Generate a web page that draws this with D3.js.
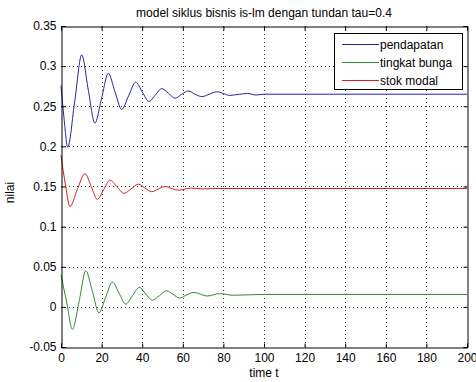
<!DOCTYPE html>
<html><head><meta charset="utf-8">
<script src="https://cdn.jsdelivr.net/npm/d3@7"></script>
<style>body{margin:0;background:#fff}svg{display:block}text{font-family:"Liberation Sans",Arial,sans-serif}</style>
</head><body><svg id="c" width="476" height="382"></svg>
<script>
const title = "model siklus bisnis is-lm dengan tundan tau=0.4";
const xLabel = "time t";
const yLabel = "nilai";
const xTicks = [0,20,40,60,80,100,120,140,160,180,200];
const yTicks = [-0.05,0,0.05,0.1,0.15,0.2,0.25,0.3,0.35];
const seriesNames = ["pendapatan","tingkat bunga","stok modal"];
const seriesColors = ["#2020b4","#2a8c2a","#d81c1c"];

const tPendapatan = [0,1.5,3.3,6.8,10.2,13.4,16.7,20,23.3,26.6,29.9,33.3,36.8,40,43.3,46.5,49.6,53,56.2,59.5,62.7,66,69.5,73,76.7,80,83,88,92,96,100,200];
const vPendapatan = [0.276,0.235,0.199,0.257,0.314,0.271,0.229,0.260,0.291,0.268,0.246,0.263,0.280,0.268,0.256,0.264,0.272,0.266,0.260,0.265,0.269,0.265,0.262,0.265,0.268,0.266,0.2635,0.265,0.266,0.264,0.265,0.265];

const tBunga = [0,2.8,5.6,9,12.2,15.5,18.7,22,25.3,28.6,31.9,35.2,38.6,41.8,45,48.5,52,55,58.5,62,65.5,72,78,85,100,200];
const vBunga = [0.0395,0.006,-0.028,0.008,0.045,0.019,-0.0075,0.012,0.031,0.017,0.0034,0.014,0.0242,0.016,0.0083,0.014,0.020,0.016,0.011,0.015,0.018,0.0135,0.0165,0.0145,0.0155,0.0155];

const tModal = [0,2.2,4.4,8,11.8,14.9,17.9,21,24.1,27.5,31,34.5,38.1,41.4,44.7,48,51.3,55,58,64,70,76,200];
const vModal = [0.189,0.152,0.125,0.146,0.166,0.150,0.134,0.146,0.158,0.150,0.1415,0.147,0.153,0.148,0.1435,0.147,0.150,0.147,0.1455,0.148,0.147,0.1475,0.1475];

const svg = d3.select("#c");
const L=61,R=467,T=26,B=347;
const x = d3.scaleLinear().domain([0,200]).range([L,R]);
const y = d3.scaleLinear().domain([-0.05,0.35]).range([B,T]);

svg.append("rect").attr("x",L).attr("y",T).attr("width",R-L).attr("height",B-T).attr("fill","#fff");

// grid
const g = svg.append("g").attr("stroke","#333").attr("stroke-width",1).attr("stroke-dasharray","1,3");
xTicks.slice(1,-1).forEach(t=>g.append("line").attr("x1",Math.round(x(t))+0.5).attr("x2",Math.round(x(t))+0.5).attr("y1",T).attr("y2",B));
yTicks.slice(1,-1).forEach(t=>g.append("line").attr("y1",Math.round(y(t))+0.5).attr("y2",Math.round(y(t))+0.5).attr("x1",L).attr("x2",R));

// lines
const mk = (ts,vs)=>ts.map((t,i)=>[t,vs[i]]);
const data = [mk(tPendapatan,vPendapatan), mk(tBunga,vBunga), mk(tModal,vModal)];
const line = d3.line().x(d=>x(d[0])).y(d=>y(d[1])).curve(d3.curveMonotoneX);
data.forEach((d,i)=>svg.append("path").attr("d",line(d)).attr("fill","none").attr("stroke",seriesColors[i]).attr("stroke-width",1));

// axes
const axB = d3.axisBottom(x).tickValues(xTicks).tickSize(-4).tickPadding(6).tickFormat(d3.format("d"));
const axT = d3.axisTop(x).tickValues(xTicks).tickSize(-4).tickFormat("");
const axL = d3.axisLeft(y).tickValues(yTicks).tickSize(-4).tickPadding(5).tickFormat(d=>String(+d.toFixed(2)));
const axR = d3.axisRight(y).tickValues(yTicks).tickSize(-4).tickFormat("");
[[axB,`translate(0,${B+0.5})`],[axT,`translate(0,${T+0.5})`],[axL,`translate(${L+0.5},0)`],[axR,`translate(${R+0.5},0)`]].forEach(([a,tr])=>{
  const gg = svg.append("g").attr("transform",tr).call(a);
  gg.selectAll("text").attr("font-size",12).attr("font-family","Liberation Sans, Arial, sans-serif").attr("fill","#000");
  gg.select(".domain").attr("stroke","#000");
  gg.selectAll(".tick line").attr("stroke","#000");
});

svg.append("text").attr("x",(L+R)/2).attr("y",17).attr("text-anchor","middle").attr("font-size",12).text(title);
svg.append("text").attr("x",(L+R)/2).attr("y",377).attr("text-anchor","middle").attr("font-size",12).text(xLabel);
svg.append("text").attr("transform",`translate(14,${(T+B)/2+6}) rotate(-90)`).attr("text-anchor","middle").attr("font-size",12).text(yLabel);

// legend
const lg = svg.append("g");
lg.append("rect").attr("x",334.5).attr("y",33.5).attr("width",128).attr("height",56).attr("fill","#fff").attr("stroke","#000");
seriesNames.forEach((n,i)=>{
  const yy = 44.5 + i*18;
  lg.append("line").attr("x1",342).attr("x2",379).attr("y1",yy).attr("y2",yy).attr("stroke",seriesColors[i]);
  lg.append("text").attr("x",380).attr("y",yy+4).attr("font-size",12).text(n);
});
</script></body></html>
